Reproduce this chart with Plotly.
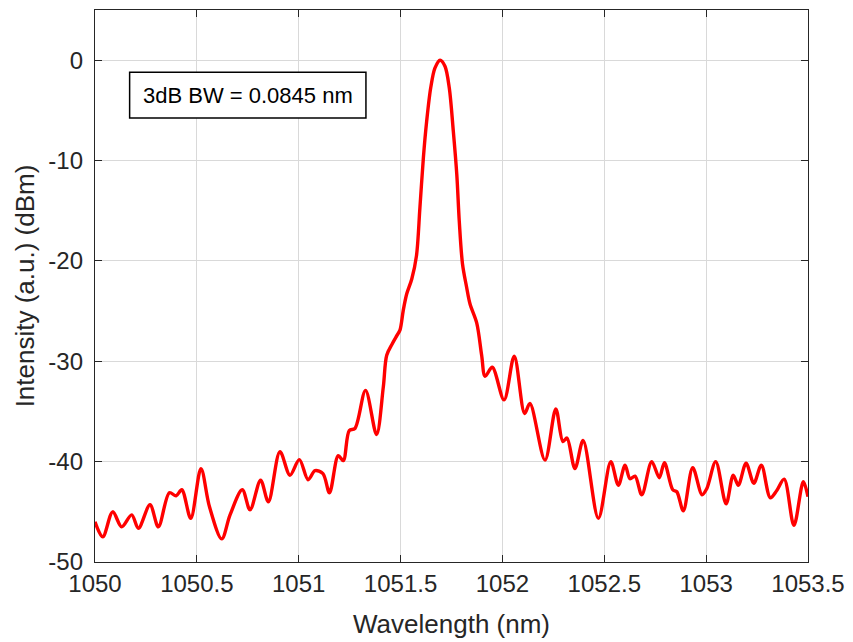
import plotly.graph_objects as go

# Spectrum trace
wavelength_nm = [
    1050.000, 1050.038, 1050.087, 1050.131, 1050.180, 1050.213, 1050.270, 1050.311,
    1050.365, 1050.398, 1050.426, 1050.470, 1050.520, 1050.562, 1050.622, 1050.663,
    1050.723, 1050.761, 1050.813, 1050.851, 1050.908, 1050.957, 1051.003, 1051.046,
    1051.080, 1051.119, 1051.151, 1051.194, 1051.219, 1051.248, 1051.276, 1051.328,
    1051.382, 1051.415, 1051.432, 1051.458, 1051.483, 1051.497, 1051.513, 1051.530,
    1051.555, 1051.578, 1051.595, 1051.612, 1051.628, 1051.648, 1051.669, 1051.694,
    1051.718, 1051.739, 1051.759, 1051.776, 1051.788, 1051.804, 1051.824, 1051.841,
    1051.874, 1051.898, 1051.915, 1051.950, 1052.008, 1052.058, 1052.109, 1052.135,
    1052.209, 1052.262, 1052.297, 1052.317, 1052.356, 1052.396, 1052.471, 1052.532,
    1052.569, 1052.602, 1052.626, 1052.651, 1052.684, 1052.733, 1052.770, 1052.795,
    1052.836, 1052.856, 1052.888, 1052.934, 1052.980, 1053.003, 1053.047, 1053.098,
    1053.133, 1053.158, 1053.196, 1053.234, 1053.271, 1053.315, 1053.346, 1053.383,
    1053.431, 1053.477, 1053.500,
]
intensity_dbm = [
    -46.0, -47.5, -45.0, -46.5, -45.3, -46.65, -44.3, -46.5,
    -43.1, -43.4, -42.8, -45.65, -40.7, -44.5, -47.7, -45.3,
    -42.8, -44.8, -41.85, -44.0, -39.0, -41.35, -39.8, -41.8,
    -40.9, -41.2, -43.1, -39.4, -39.9, -36.9, -36.7, -32.9,
    -37.3, -32.6, -29.4, -28.3, -27.4, -26.9, -24.95, -23.3,
    -21.8, -19.5, -14.7, -9.7, -6.1, -2.75, -0.77, 0.0,
    -0.6, -2.75, -7.1, -11.4, -16.0, -20.3, -22.6, -24.3,
    -26.2, -29.4, -31.5, -30.6, -33.85, -29.5, -35.2, -34.2,
    -39.85, -34.75, -38.0, -37.65, -40.7, -37.9, -45.65, -40.0,
    -42.35, -40.35, -41.7, -41.45, -43.3, -40.0, -41.6, -40.1,
    -42.8, -43.0, -44.9, -40.6, -43.3, -42.7, -40.0, -44.2,
    -41.35, -42.35, -40.15, -42.15, -40.35, -43.6, -42.9, -41.75,
    -46.35, -42.0, -43.5,
]

x_ticks = [1050, 1050.5, 1051, 1051.5, 1052, 1052.5, 1053, 1053.5]
x_tick_labels = ["1050", "1050.5", "1051", "1051.5", "1052", "1052.5", "1053", "1053.5"]
y_ticks = [-50, -40, -30, -20, -10, 0]
y_tick_labels = ["-50", "-40", "-30", "-20", "-10", "0"]

annotation_text = "3dB BW = 0.0845 nm"
box_x = [1050.17, 1051.33]
box_y = [-5.75, -1.2]

FONT = "Liberation Sans, Arial, sans-serif"
AXC = "#262626"

fig = go.Figure()
fig.add_trace(go.Scatter(
    x=wavelength_nm, y=intensity_dbm, mode="lines",
    line=dict(color="#ff0000", width=3.4, shape="spline", smoothing=0.9),
    showlegend=False, hoverinfo="skip",
))

fig.add_shape(type="rect", xref="x", yref="y",
              x0=box_x[0], x1=box_x[1], y0=box_y[0], y1=box_y[1],
              line=dict(color="black", width=1.5), fillcolor="white", layer="above")
fig.add_annotation(x=sum(box_x) / 2, y=sum(box_y) / 2, xref="x", yref="y",
                   text=annotation_text, showarrow=False,
                   font=dict(family=FONT, size=22, color="black"))

axis_common = dict(
    showline=True, linecolor=AXC, linewidth=1.3, mirror="ticks",
    ticks="inside", ticklen=7, tickwidth=1, tickcolor=AXC,
    showgrid=True, gridcolor="#d9d9d9", gridwidth=1,
    zeroline=False, tickfont=dict(family=FONT, size=24, color=AXC),
)

fig.update_layout(
    width=845, height=634,
    margin=dict(l=87, r=45, t=2, b=80),
    paper_bgcolor="white", plot_bgcolor="white",
    xaxis=dict(range=[1050, 1053.5], tickvals=x_ticks, ticktext=x_tick_labels,
               title=dict(text="Wavelength (nm)", font=dict(family=FONT, size=26, color=AXC),
                          standoff=18),
               **axis_common),
    yaxis=dict(range=[-50, 5], tickvals=y_ticks, ticktext=y_tick_labels,
               ticklabelstandoff=6,
               title=dict(text="Intensity (a.u.) (dBm)", font=dict(family=FONT, size=26, color=AXC),
                          standoff=6),
               **axis_common),
)

fig.write_html("out.html")
